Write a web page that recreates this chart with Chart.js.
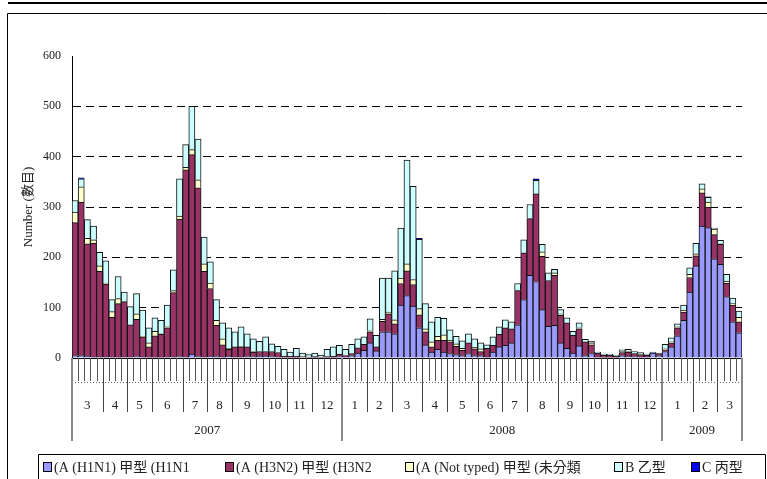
<!DOCTYPE html>
<html><head><meta charset="utf-8">
<script src="https://cdn.jsdelivr.net/npm/chart.js@4.4.1/dist/chart.umd.min.js"></script>
<style>html,body{margin:0;padding:0;background:#fff;}canvas{display:block;}</style>
</head><body>
<canvas id="c" width="767" height="479"></canvas>
<script>
// ---------- data ----------
const monthLabels = ['3','4','5','6','7','8','9','10','11','12','1','2','3','4','5','6','7','8','9','10','11','12','1','2','3'];
const monthWeeks  = [5,4,4,5,4,4,5,4,4,5, 4,4,5,4,5,4,4,5,4,4,5,4, 5,4,4];
const yearLabels  = ['2007','2008','2009'];
const yearWeeks   = [44,52,13];
const seriesNames = ['(A (H1N1) 甲型 (H1N1','(A (H3N2) 甲型 (H3N2','(A (Not typed) 甲型 (未分類','B 乙型','C 丙型'];
const yAxisTitle  = 'Number (數目)';

const h1n1 = [5,5,4,2,2,2,2,1,2,2, 3,2,1,1,1,2,2,3,2,8, 3,2,4,3,2,4,2,2,3,3, 4,4,3,2,1,1,1,0,0,1,
              0,1,1,3,2,5,10,15,30,14, 52,52,48,105,124,103,60,26,12,17, 12,9,7,5,9,5,5,2,12,22,
              25,30,66,116,164,152,96,63,65,30, 19,10,24,5,9,2,1,1,1,5, 4,3,2,2,10,5,13,22,44,75,
              131,183,262,259,197,186,122,72,50];
const h3n2 = [264,305,223,226,170,145,79,107,110,64, 74,40,21,43,46,58,128,273,372,396, 335,170,134,62,24,13,20,20,19,9,
              9,9,10,9,3,3,3,1,2,2, 2,2,3,5,3,4,10,12,22,8, 21,36,20,43,49,43,26,26,10,18,
              23,23,16,10,21,13,8,17,13,25, 35,28,68,93,113,174,106,91,99,55, 51,35,34,27,17,8,5,5,3,6,
              8,6,5,4,0,4,3,8,16,16, 29,20,66,41,48,40,27,33,22];
const notTyped = [21,30,11,7,11,2,11,10,0,0, 11,1,8,9,1,2,4,6,5,10, 16,15,11,10,12,2,0,1,0,1,
              0,0,0,0,0,0,0,3,0,0, 0,0,0,0,0,0,0,0,2,0, 4,3,8,11,14,10,12,6,10,8,
              11,3,5,4,0,3,5,0,0,0, 0,0,1,0,0,0,9,0,5,3, 0,0,2,0,4,0,0,0,0,2,
              1,1,0,0,0,0,2,2,2,4, 6,4,8,10,11,1,4,3,9];
const typeB = [23,16,37,27,27,44,24,44,19,36, 40,52,30,27,27,43,41,74,45,86, 81,53,42,41,32,41,30,39,26,25,
              20,29,15,12,13,8,15,6,5,7, 4,14,18,17,12,18,18,15,24,23, 82,68,97,99,206,185,138,50,40,38,
              33,21,15,15,18,17,12,7,17,15, 16,14,13,26,28,27,15,15,7,8, 10,8,10,5,3,2,2,2,2,3,
              4,3,4,2,1,1,9,8,6,10, 13,21,10,9,2,7,13,11,12];
const typeC = [0,2,0,0,0,0,0,0,0,0, 0,0,0,0,0,0,0,0,0,0, 0,0,0,0,0,0,0,0,0,0,
              0,0,0,0,0,0,0,0,0,0, 0,0,0,0,0,0,0,0,0,0, 0,0,0,0,0,0,2,0,0,0,
              0,0,0,0,0,0,0,0,0,0, 0,0,0,0,0,3,0,0,0,0, 0,0,0,0,0,0,0,0,0,0,
              0,0,0,0,1,0,0,0,0,0, 0,0,0,1,0,0,0,0,0];

// ---------- styles ----------
const seriesColors = ['#9999FF','#993366','#FFFFCC','#CCFFFF','#0000FF'];
const FONT = "'Liberation Serif','Noto Sans CJK TC',serif";
const TXT = '#222';

// week categories derived from the month structure
const weekLabels = [];
{
  let year = 2007;
  monthLabels.forEach((m, k) => {
    for (let w = 1; w <= monthWeeks[k]; w++) weekLabels.push(year + '-' + m + '-w' + w);
    if (m === '12') year++;
  });
}

const decor = {
  id: 'decor',
  afterDraw(chart) {
    const ctx = chart.ctx, xs = chart.scales.x, ys = chart.scales.y;
    const area = chart.chartArea;
    const half = (xs.getPixelForValue(1) - xs.getPixelForValue(0)) / 2;
    const edge = i => xs.getPixelForValue(i) - half;
    const n = weekLabels.length;
    const bottom = area.bottom;
    ctx.save();
    // page frame
    ctx.fillStyle = '#000';
    ctx.fillRect(8, 2, 759, 2);
    ctx.strokeStyle = '#000'; ctx.lineWidth = 1;
    ctx.beginPath(); ctx.moveTo(7.5, 479); ctx.lineTo(7.5, 13.5); ctx.lineTo(767, 13.5); ctx.stroke();
    // week ticks
    ctx.strokeStyle = '#555'; ctx.lineWidth = 1;
    ctx.beginPath();
    for (let i = 0; i <= n; i++) { const x = Math.round(edge(i)) + 0.5; ctx.moveTo(x, bottom); ctx.lineTo(x, bottom + 23); }
    ctx.stroke();
    // dotted line
    ctx.setLineDash([1, 2]); ctx.strokeStyle = '#666';
    ctx.beginPath(); ctx.moveTo(edge(0), bottom + 24.5); ctx.lineTo(edge(n), bottom + 24.5); ctx.stroke();
    ctx.setLineDash([]);
    // month separators and labels
    ctx.font = '13px ' + FONT; ctx.fillStyle = TXT; ctx.textAlign = 'center'; ctx.textBaseline = 'middle';
    let acc = 0;
    ctx.strokeStyle = '#444';
    monthWeeks.forEach((w, k) => {
      const x0 = edge(acc), x1 = edge(acc + w);
      ctx.beginPath(); ctx.moveTo(Math.round(x0) + 0.5, bottom); ctx.lineTo(Math.round(x0) + 0.5, bottom + 54); ctx.stroke();
      ctx.fillText(monthLabels[k], (x0 + x1) / 2, bottom + 48);
      acc += w;
    });
    // year separators and labels
    acc = 0;
    ctx.strokeStyle = '#888'; ctx.lineWidth = 2;
    const yx = [edge(0)];
    yearWeeks.forEach(w => { acc += w; yx.push(edge(acc)); });
    yx.forEach(x => { ctx.beginPath(); ctx.moveTo(Math.round(x), bottom); ctx.lineTo(Math.round(x), bottom + 83); ctx.stroke(); });
    yearLabels.forEach((t, k) => ctx.fillText(t, (yx[k] + yx[k + 1]) / 2, bottom + 73));
    // y title
    ctx.save();
    ctx.translate(29, (ys.getPixelForValue(600) + ys.getPixelForValue(0)) / 2);
    ctx.rotate(-Math.PI / 2);
    ctx.font = '13px ' + FONT;
    ctx.fillText(yAxisTitle, 0, 0);
    ctx.restore();
    // legend
    ctx.lineWidth = 1; ctx.strokeStyle = '#000';
    ctx.beginPath(); ctx.moveTo(38.5, 480); ctx.lineTo(38.5, 454.5); ctx.lineTo(765.5, 454.5); ctx.lineTo(765.5, 480); ctx.stroke();
    const legendX = [43, 225, 405, 614, 691];
    ctx.textAlign = 'left'; ctx.textBaseline = 'alphabetic'; ctx.font = '14px ' + FONT;
    chart.data.datasets.forEach((ds, k) => {
      const x = legendX[k];
      ctx.fillStyle = ds.backgroundColor;
      ctx.fillRect(x + 0.5, 462.5, 8, 9);
      ctx.strokeRect(x + 0.5, 462.5, 8, 9);
      ctx.fillStyle = TXT;
      ctx.fillText(ds.label, x + 11, 472);
    });
    ctx.restore();
  }
};

const series = [h1n1, h3n2, notTyped, typeB, typeC];
new Chart(document.getElementById('c'), {
  type: 'bar',
  data: {
    labels: weekLabels,
    datasets: series.map((d, k) => ({
      label: seriesNames[k], data: d, backgroundColor: seriesColors[k],
      borderColor: '#111', borderWidth: 1, barPercentage: 1, categoryPercentage: 1
    }))
  },
  options: {
    responsive: false, animation: false, devicePixelRatio: 1,
    layout: { padding: { left: 0, top: 56, right: 25, bottom: 0 } },
    plugins: { legend: { display: false }, tooltip: { enabled: false } },
    scales: {
      x: {
        stacked: true,
        ticks: { display: false },
        grid: { display: false, drawTicks: false },
        border: { display: true, color: '#000', width: 1 },
        afterFit: s => { s.height = 121; }
      },
      y: {
        stacked: true, min: 0, max: 600,
        ticks: { stepSize: 100, padding: 11, color: TXT, font: { family: FONT, size: 12 } },
        grid: { drawTicks: false, color: c => (c.tick && (c.tick.value === 0 || c.tick.value === 600)) ? 'rgba(0,0,0,0)' : '#000' },
        border: { display: true, color: '#000', width: 1, dash: [8, 5] },
        afterFit: s => { s.width = 72; }
      }
    }
  },
  plugins: [decor]
});
</script>
</body></html>
